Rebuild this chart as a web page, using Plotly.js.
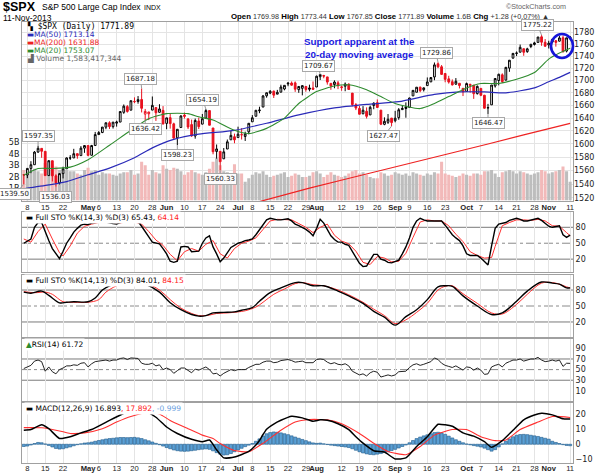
<!DOCTYPE html>
<html><head><meta charset="utf-8">
<script src="https://cdn.plot.ly/plotly-3.0.1.min.js"></script>
<style>html,body{margin:0;padding:0;background:#fff}#chart{width:605px;height:475px}</style>
</head><body><div id="chart"></div>
<script>
// ---------- DATA (trading-day index 0 = 5-Apr-2013 ... 153 = 11-Nov-2013) ----------
const prevClose = 1559.98;
const open = [
 1553.7, 1553.3,1563.1,1568.6,1587.7,1593.3, 1588.8,1552.4,1574.6,1552.0,1541.6, 1555.3,1562.5,1578.8,1578.8,1585.2, 1582.3,1593.6,
 1597.6,1582.8,1597.6, 1614.4,1617.6,1625.9,1632.7,1626.7, 1632.1,1633.8,1649.1,1658.1,1652.5, 1665.7,1666.2,1669.4,1646.2,1646.7, 1652.6,1656.6,1649.1,1652.1,
 1631.7,1640.7,1631.0,1609.4,1625.3, 1644.7,1638.6,1629.9,1612.2,1635.5, 1630.6,1639.8,1651.8,1624.6,1588.6, 1588.8,1577.5,1592.3,1606.4,1611.1,
 1609.8,1614.3,1611.5,1618.7, 1634.2,1642.9,1651.6,1657.4,1675.3, 1679.6,1682.7,1677.9,1681.1,1686.2, 1694.4,1695.9,1696.1,1685.2,1687.3, 1690.3,1687.9,1687.8,
 1689.4,1706.1, 1708.0,1705.8,1695.3,1693.4,1696.1, 1688.4,1690.7,1693.9,1679.6,1661.2, 1655.3,1646.8,1650.7,1645.0,1659.9, 1664.3,1652.5,1630.3,1633.5,1640.0,
 1635.9,1640.7,1653.3,1657.4, 1656.9,1675.1,1681.0,1689.2,1685.0, 1691.7,1697.7,1705.7,1727.3,1722.4, 1711.4,1702.6,1698.0,1694.0,1695.5, 1687.3,
 1682.4,1691.9,1692.4,1678.8, 1687.2,1676.2,1656.0,1660.9,1691.1, 1699.9,1709.2,1700.5,1720.2,1736.7, 1745.2,1746.5,1752.3,1747.5,1756.0, 1759.4,1762.9,1772.3,1763.2,
 1758.7, 1763.4,1765.7,1765.0,1770.7,1748.4, 1769.98];
const high = [
 1554.0, 1563.1,1573.9,1589.1,1597.35,1593.3, 1588.8,1575.4,1574.6,1554.4,1555.9, 1565.6,1579.6,1583.0,1592.6,1585.8, 1596.7,1597.6,
 1597.6,1598.6,1618.5, 1619.8,1626.0,1632.8,1635.0,1633.7, 1636.0,1651.1,1661.5,1660.5,1667.5, 1672.8,1674.9,1687.18,1654.4,1649.8, 1674.2,1656.6,1661.9,1658.9,
 1640.4,1646.5,1632.8,1622.6,1644.4, 1648.7,1640.1,1637.7,1639.3,1640.8, 1646.5,1654.19,1652.5,1624.6,1599.2, 1588.8,1593.8,1606.8,1620.1,1615.9,
 1626.6,1624.3,1618.9,1632.1, 1644.7,1652.4,1657.9,1676.6,1680.2, 1684.5,1683.7,1684.8,1693.1,1692.1, 1697.6,1698.4,1698.4,1690.9,1691.9, 1690.9,1693.2,1698.4,
 1707.9,1709.67, 1709.2,1705.8,1695.3,1700.2,1699.4, 1691.5,1696.8,1695.5,1679.6,1663.6, 1659.2,1658.9,1656.9,1659.6,1664.9, 1669.5,1652.5,1641.2,1646.4,1640.0,
 1651.4,1655.7,1659.2,1664.8, 1672.4,1684.1,1689.1,1689.9,1688.7, 1704.9,1705.5,1729.4,1729.86,1725.2, 1711.4,1707.6,1701.7,1703.9,1695.5, 1687.3,
 1696.6,1693.9,1692.4,1691.9, 1687.2,1676.8,1662.4,1692.6,1703.4, 1711.0,1711.6,1721.8,1733.5,1745.3, 1747.8,1759.3,1752.3,1753.9,1759.8, 1764.0,1772.1,1775.22,1768.5,
 1765.7, 1768.8,1767.0,1773.7,1774.5,1770.8, 1773.44];
const low = [
 1539.50, 1548.6,1556.0,1568.6,1586.5,1579.0, 1552.3,1552.4,1543.7,1536.03,1539.4, 1548.2,1562.5,1575.8,1578.8,1577.6, 1582.3,1586.5,
 1581.3,1582.8,1597.6, 1614.2,1616.6,1622.7,1623.1,1623.7, 1626.7,1633.8,1646.7,1648.6,1652.4, 1663.5,1662.7,1648.9,1636.42,1636.9, 1652.6,1635.6,1648.6,1630.7,
 1622.7,1623.6,1608.5,1598.23,1625.3, 1639.3,1622.9,1610.9,1608.1,1623.0, 1630.3,1639.8,1628.9,1584.3,1577.7, 1560.33,1577.1,1592.3,1606.4,1601.1,
 1609.8,1606.8,1604.6,1614.7, 1634.2,1642.9,1647.7,1657.4,1672.3, 1677.9,1671.8,1677.9,1681.1,1684.1, 1690.7,1691.5,1681.6,1680.1,1676.0, 1681.9,1682.4,1684.9,
 1689.4,1700.7, 1703.6,1693.3,1684.9,1687.4,1686.0, 1683.4,1682.6,1684.8,1658.6,1652.6, 1645.8,1646.1,1639.4,1645.0,1653.9, 1656.0,1629.1,1628.9,1630.9,1627.47,
 1633.4,1637.4,1653.1,1640.6, 1656.9,1675.1,1681.0,1681.0,1682.2, 1691.7,1697.7,1700.4,1720.2,1709.7, 1697.1,1694.9,1691.9,1693.1,1687.1, 1674.9,
 1682.1,1680.3,1670.4,1677.3, 1674.7,1655.0,1646.47,1660.9,1688.5, 1692.1,1695.9,1700.5,1714.1,1735.7, 1740.0,1746.5,1740.5,1745.5,1753.3, 1757.7,1762.9,1757.2,1755.7,
 1752.7, 1761.6,1755.8,1764.4,1746.2,1746.2, 1767.85];
const close = [
 1553.3, 1563.1,1568.6,1587.7,1593.4,1588.9, 1552.4,1574.6,1552.0,1541.6,1555.3, 1562.5,1578.8,1578.8,1585.2,1582.2, 1593.6,1597.6,
 1582.7,1597.6,1614.4, 1617.5,1626.0,1632.7,1626.7,1633.7, 1633.8,1650.3,1658.8,1650.5,1667.5, 1666.3,1669.2,1655.4,1650.5,1649.6, 1660.1,1648.4,1654.4,1630.7,
 1640.4,1631.4,1608.9,1622.6,1643.4, 1642.8,1626.1,1612.5,1636.4,1626.7, 1639.0,1651.8,1628.9,1588.2,1592.4, 1573.1,1588.0,1603.3,1613.2,1606.3,
 1615.0,1614.1,1615.4,1631.9, 1640.5,1652.3,1652.6,1675.0,1680.2, 1682.5,1676.3,1680.9,1689.4,1692.1, 1695.5,1692.4,1685.9,1690.3,1691.7, 1685.3,1686.0,1685.7,
 1706.9,1709.67, 1707.1,1697.4,1690.9,1697.5,1691.4, 1689.5,1694.2,1685.4,1661.3,1655.8, 1646.1,1652.4,1642.8,1657.0,1663.5, 1656.8,1630.5,1635.0,1638.2,1633.0,
 1639.8,1653.1,1655.1,1655.2, 1671.7,1684.0,1689.1,1683.4,1688.0, 1697.6,1704.8,1725.5,1722.3,1709.9, 1701.8,1697.4,1692.8,1698.7,1691.8, 1681.6,
 1695.0,1693.9,1678.7,1690.5, 1676.1,1655.5,1656.4,1692.6,1703.2, 1710.1,1698.1,1721.5,1733.2,1744.5, 1744.7,1754.7,1746.4,1752.1,1759.8, 1762.1,1772.0,1763.3,1756.5,
 1761.6, 1767.9,1763.0,1770.5,1747.2,1770.61, 1771.89];
// volume, billions of shares
const volume = [
 2.6, 2.3,2.5,2.7,2.5,2.3, 3.2,2.6,3.1,2.9,2.6, 2.4,2.6,2.5,2.5,2.3, 2.2,2.6,
 2.8,2.5,2.6, 2.2,2.4,2.3,2.3,2.2, 2.1,2.3,2.4,2.4,2.6, 2.2,2.3,3.3,3.0,2.2, 2.6,2.4,2.3,3.0,
 2.7,2.6,2.8,2.7,2.5, 2.2,2.4,2.6,2.4,2.3, 2.2,2.4,2.7,3.3,3.6, 3.0,2.5,2.4,2.3,3.1,
 2.3,2.3,1.6,1.9, 2.2,2.4,2.3,2.5,2.2, 2.0,2.1,2.2,2.3,2.4, 2.0,2.1,2.3,2.2,2.0, 2.0,2.1,2.4,
 2.5,2.3, 2.0,2.2,2.4,2.2,2.1, 2.0,2.1,2.3,2.5,2.6, 2.3,2.4,2.2,2.0,1.9, 1.9,2.4,2.3,2.1,2.2,
 2.4,2.3,2.2,2.3, 2.1,2.4,2.3,2.2,2.1, 2.3,2.2,2.4,2.3,3.3, 2.3,2.2,2.1,2.0,2.1, 2.3,
 2.2,2.1,2.3,2.3, 2.2,2.5,2.5,2.6,2.3, 2.0,2.4,2.5,2.6,2.5, 2.3,2.5,2.4,2.3,2.2, 2.3,2.4,2.6,2.5,
 2.3, 2.4,2.5,2.6,2.9,2.5, 1.583];
const lastVolumeText = '1,583,417,344';
// moving averages (read at points along the lines)
const ma20X = [0,4,8,13,18,24,30,35,40,46,49,53,59,63,68,73,77,82,87,91,96,100,104,111,115,119,124,128,133,138,143,147,150,153];
const ma20  = [1553,1563,1563,1565,1576,1598,1621,1639,1647,1647,1642,1637,1621,1616,1624,1640,1663,1682,1691,1693,1685,1674,1663,1655,1663,1674,1688,1695,1695,1702,1713,1735,1745,1753.07];
const ma50X = [0,7,12,18,24,31,36,42,49,59,68,77,87,96,105,115,122,129,135,143,147,150,153];
const ma50  = [1533,1538.6,1543.5,1553.6,1563.5,1579,1594,1607,1615,1621,1632,1645,1656,1661.6,1666,1677.6,1681.5,1681.5,1680,1688,1698,1705,1713.14];
const ma200X = [60,70,80,90,100,110,120,130,140,153];
const ma200  = [1506,1520,1534,1547,1560,1573,1586,1600,1614,1631.88];
// Full STO (14,3) %K daily, %D at points
const sto1K = [
 50,54,58,80,89,89,70,55,40,30, 21,35,50,60,71,78,84,86,85,88, 89,90,91,90,88,87,86,89,92,94,
 95,93,91,82,71,62,52,50,49,40, 30,16,14,16,43,44,43,34,34,35, 50,60,64,43,30,15,22,32,42,46,
 50,52,55,56,58,66,75,86,94,97, 95,94,94,95,96,92,86,83,80,76, 71,64,78,95,88,75,64,57,52,52,
 48,46,35,24,12,6,7,18,29,29, 20,18,14,13,15,18,30,43,60,80, 92,97,94,92,92,92,93,92,84,74,
 66,60,55,45,30,27,27,27,22,16, 9,45,78,86,87,89,93,95,97,95, 92,92,94,95,97,93,87,82,80,82,
 83,66,61,65.43];
const sto1DX = [0,2,4,6,8,10,11,13,15,17,19,21,24,27,30,33,35,37,39,41,43,45,47,49,51,53,55,57,59,61,63,65,67,69,71,73,75,77,79,81,83,85,87,89,91,93,95,97,99,101,103,105,107,109,111,113,115,117,119,121,123,125,127,129,131,132,134,136,138,140,142,144,146,148,150,152,153];
const sto1D  = [58,52,72,86,58,32,26,45,69,82,86,89,89,88,92,86,72,56,46,29,17,34,40,35,48,55,30,22,40,50,54,60,76,92,95,94,94,87,80,70,80,86,65,54,49,35,14,10,25,22,15,16,31,61,90,94,92,92,83,67,53,34,27,22,23,44,83,89,94,94,93,95,92,83,82,70,64.14];
// Full STO (14,13)
const sto2KX = [0,2,5,7,10,12,14,18,20,22,24,27,30,34,38,41,44,47,49,51,53,56,59,61,64,66,69,72,76,78,81,84,88,91,95,98,101,104,107,110,113,116,118,120,123,127,131,134,138,141,145,148,150,152,153];
const sto2K  = [76,74,78,70,56,57,58,58,65,80,88,94,97,91,76,56,43,34,31,32,37,38,39,42,47,59,75,84,94,94,88,88,78,69,55,40,29,14,30,43,62,86,88,87,69,50,34,37,59,78,95,93,91,84,84.01];
const sto2DX = [0,3,6,8,11,14,18,21,23,26,29,34,38,41,44,47,49,52,54,57,60,62,65,67,70,73,76,78,81,84,88,91,95,98,101,104,107,110,113,116,118,120,123,127,131,134,138,141,145,148,150,152,153];
const sto2D  = [77,75,76,72,58,57,57,62,76,88,94,93,80,62,46,36,32,33,36,37,39,41,48,57,72,82,92,94,90,88,80,71,57,44,32,17,24,38,55,80,87,88,73,55,37,35,53,72,93,94,91,86,84.15];
// RSI(14) daily
const rsi = [
 52,55,58,66,68,65,47,55,46,42, 50,53,57,57,59,58,62,63,55,61, 65,66,67,68,66,68,68,71,72,69,
 72,71,71,62,60,60,62,57,59,50, 53,50,43,48,53,53,48,44,51,49, 52,55,50,42,43,38,43,47,50,48,
 50,50,50,54,57,60,60,64,66,66, 63,64,67,68,69,67,64,65,66,63, 63,63,69,70,69,64,61,63,60,59,
 61,57,47,44,40,42,38,44,47,45, 36,38,40,38,40,46,47,47,54,59, 61,58,60,63,65,72,69,62,58,56,
 54,57,53,49,55,54,49,53,49,41, 42,55,58,60,55,62,65,68,68,70, 66,68,70,70,73,68,65,66,68,66,
 68,56,62,61.72];
// MACD(12,26,9)
const macdX = [0,2,5,7,10,13,16,19,24,28,30,34,37,40,43,47,50,52,54,56,59,63,65,66,67,68,70,72,75,78,81,83,85,88,91,93,95,98,101,104,107,110,113,116,118,120,123,126,129,131,134,137,140,143,145,148,151,153];
const macd  = [9.3,9.8,13,10.4,3.9,5,7.6,9.8,15.9,20.7,22.8,22,18,11.5,7.2,3.3,1.7,2.8,-3.7,-9.1,-8.5,-4.8,-0.5,2.5,6.5,10,13.5,16,18.7,17.6,15.4,16.3,16.0,13.7,9.8,5,0.7,-4.3,-5.2,-9.8,-9.1,-1.5,5,13.3,13,12,7.6,5.4,1.7,-2,2.4,9.3,16.3,19.5,20.7,19.6,17,16.893];
const signalX = [0,5,10,13,17,22,26,30,35,38,41,46,50,53,55,59,63,67,72,76,80,85,89,94,98,102,107,111,115,120,124,128,132,135,139,144,148,153];
const signal  = [11.1,11,8.9,7.2,7.6,10.4,14.8,18.5,21.3,20.2,15.9,10.4,6.1,3.8,0.5,-4.2,-5.0,0.7,9.3,14.8,16.5,16.3,13.7,7.2,0.7,-4.8,-7,-1.5,6.1,9.8,9.8,5,2.4,2.8,9.8,14.8,18.5,17.892];
const hist = [
 -1.5,-1.2,-0.5,0.5,1.2,1.0,0.2,-0.8,-1.8,-2.8, -3.2,-3.0,-2.4,-1.8,-1.0,-0.3,0.3,0.8,1.0,1.4,
 2.0,2.5,3.0,3.5,3.8,4.0,4.3,4.5,4.5,4.4, 4.5,4.6,4.3,3.8,3.0,2.3,1.5,0.6,-0.3,-1.2,
 -2.2,-3.0,-3.8,-4.3,-4.6,-4.7,-4.6,-4.3,-4.0,-3.6, -3.3,-3.1,-3.4,-4.4,-5.6,-6.6,-7.2,-7.0,-6.2,-5.0,
 -3.8,-2.7,-1.6,-0.6,0.5,2.0,3.6,5.5,7.0,7.8, 8.2,8.0,7.6,7.0,6.4,5.6,4.8,4.0,3.2,2.4,
 1.6,0.9,0.6,0.8,0.3,-0.2,-0.6,-0.9,-1.2,-1.5, -1.8,-2.2,-3.0,-4.0,-5.0,-5.8,-6.4,-6.8,-7.0,-6.6,
 -6.2,-5.6,-5.0,-4.2,-3.4,-2.5,-1.5,-0.5,1.0,2.5, 3.8,4.8,5.6,6.3,7.0,7.8,8.0,7.6,6.6,5.4,
 4.2,3.0,2.0,1.0,0.2,-0.4,-0.9,-1.3,-1.8,-2.6, -3.6,-4.6,-3.6,-1.8,0.3,2.0,3.6,5.0,6.0,6.5,
 6.6,6.4,6.0,5.6,5.2,4.6,4.0,3.4,2.0,1.2, 0.5,-0.3,-0.8,-0.999];
// x tick labels
const tickIdx  = [1,6,11,18,21,26,31,36,40,45,50,55,60,64,69,74,79,82,89,94,99,104,108,113,118,124,128,133,138,143,147,153];
const tickText = ['8','15','22','<b>May</b>','6','13','20','28','<b>Jun</b>','10','17','24','<b>Jul</b>','8','15','22','29','<b>Aug</b>','12','19','26','<b>Sep</b>','9','16','23','<b>Oct</b>','7','14','21','28','<b>Nov</b>','11'];
const priceTicks = [1520,1540,1560,1580,1600,1620,1640,1660,1680,1700,1720,1740,1760,1780];
const hiLabelIdx = [4,33,51,83,116,145];
const loLabelIdx = [0,9,34,43,55,103,130];

// ---------- STYLE ----------
const FONT = 'DejaVu Sans, Verdana, sans-serif';
const SANS = 'Liberation Sans, Arial, sans-serif';
const gridC = '#e4e4e4', frameC = '#a0a0a0';
const ML = 22, MT = 22, PW = 551, PH = 441;
const P = (x, y) => ({x: (x - ML) / PW, y: (MT + PH - y) / PH});
const n = close.length;
const idx = close.map((_, i) => i);

const up = {x:[],o:[],h:[],l:[],c:[]}, dn = {x:[],o:[],h:[],l:[],c:[]};
const volCol = [];
for (let i = 0; i < n; i++) {
  const pc = i === 0 ? prevClose : close[i-1];
  const g = close[i] >= pc ? up : dn;
  g.x.push(i); g.o.push(open[i]); g.h.push(high[i]); g.l.push(low[i]); g.c.push(close[i]);
  volCol.push(close[i] >= pc ? '#bdbdbd' : '#f2b9b9');
}
const RED = '#e8101e';
const traces = [
  {type:'bar', x:idx, y:volume, xaxis:'x', yaxis:'y', marker:{color:volCol, line:{width:0}}, hoverinfo:'skip'},
  {type:'scatter', mode:'lines', x:ma200X, y:ma200, xaxis:'x', yaxis:'y2', line:{color:'#ee2222', width:1.2}, hoverinfo:'skip'},
  {type:'scatter', mode:'lines', x:ma50X, y:ma50, xaxis:'x', yaxis:'y2', line:{color:'#2a2ab8', width:1.2, shape:'spline', smoothing:0.6}, hoverinfo:'skip'},
  {type:'scatter', mode:'lines', x:ma20X, y:ma20, xaxis:'x', yaxis:'y2', line:{color:'#2e8b2e', width:1.1, shape:'spline', smoothing:0.6}, hoverinfo:'skip'},
  {type:'candlestick', x:up.x, open:up.o, high:up.h, low:up.l, close:up.c, xaxis:'x', yaxis:'y2',
   increasing:{line:{color:'#000', width:1}, fillcolor:'#fff'}, decreasing:{line:{color:'#000', width:1}, fillcolor:'#000'}, whiskerwidth:0, hoverinfo:'skip'},
  {type:'candlestick', x:dn.x, open:dn.o, high:dn.h, low:dn.l, close:dn.c, xaxis:'x', yaxis:'y2',
   increasing:{line:{color:RED, width:1}, fillcolor:'#fff'}, decreasing:{line:{color:RED, width:1}, fillcolor:RED}, whiskerwidth:0, hoverinfo:'skip'},
  {type:'scatter', mode:'lines', x:sto1DX, y:sto1D, xaxis:'x2', yaxis:'y3', line:{color:'#ff3030', width:1}, hoverinfo:'skip'},
  {type:'scatter', mode:'lines', x:idx, y:sto1K, xaxis:'x2', yaxis:'y3', line:{color:'#000', width:1.4}, hoverinfo:'skip'},
  {type:'scatter', mode:'lines', x:sto2DX, y:sto2D, xaxis:'x3', yaxis:'y4', line:{color:'#ff3030', width:1, shape:'spline'}, hoverinfo:'skip'},
  {type:'scatter', mode:'lines', x:sto2KX, y:sto2K, xaxis:'x3', yaxis:'y4', line:{color:'#000', width:1.4, shape:'spline'}, hoverinfo:'skip'},
  {type:'scatter', mode:'lines', x:idx, y:rsi, xaxis:'x4', yaxis:'y5', line:{color:'#222', width:1}, hoverinfo:'skip'},
  {type:'bar', x:idx, y:hist, xaxis:'x5', yaxis:'y6', marker:{color:'#5a9fd4', line:{color:'#1f5a8c', width:0.6}}, hoverinfo:'skip'},
  {type:'scatter', mode:'lines', x:signalX, y:signal, xaxis:'x5', yaxis:'y6', line:{color:'#ff3030', width:1.1, shape:'spline', smoothing:0.5}, hoverinfo:'skip'},
  {type:'scatter', mode:'lines', x:macdX, y:macd, xaxis:'x5', yaxis:'y6', line:{color:'#000', width:1.5, shape:'spline', smoothing:0.5}, hoverinfo:'skip'}
];

const tickFont = {family:FONT, size:8, color:'#222'};
const dateFont = {family:SANS, size:7.6, color:'#222'};
function xax(anchor, labels, standoff) {
  return {domain:[0,1], anchor, range:[-0.5,153.8], tickmode:'array', tickvals:tickIdx, ticktext:tickText,
    showticklabels:labels, tickangle:0, ticks:'', ticklabelstandoff:standoff || 0, showgrid:true, gridcolor:gridC, gridwidth:1, zeroline:false,
    showline:true, mirror:true, linecolor:frameC, linewidth:1, tickfont:dateFont, fixedrange:true,
    rangeslider:{visible:false}};
}
function yax(anchor, domain, range, vals, extra) {
  return Object.assign({domain, anchor, range, side:'right', tickmode:'array', tickvals:vals, ticks:'',
    showgrid:false, zeroline:false, showline:true, mirror:true, linecolor:frameC, linewidth:1,
    tickfont:tickFont, fixedrange:true}, extra || {});
}
const D = {main:[0.593,1], s1:[0.433,0.569], s2:[0.286,0.426], r:[0.141,0.281], m:[0,0.136]};

function hline(yref, xref, v, dash) {
  return {type:'line', xref:xref + ' domain', x0:0, x1:1, yref, y0:v, y1:v, layer:'below',
    line:{color: dash ? '#8a8a8a' : '#7a7a7a', width:1, dash: dash ? 'dashdot' : 'solid'}};
}
const shapes = [
  hline('y3','x2',80), hline('y3','x2',20), hline('y3','x2',50,true),
  hline('y4','x3',80), hline('y4','x3',20), hline('y4','x3',50,true),
  hline('y5','x4',70), hline('y5','x4',30), hline('y5','x4',50,true)
];
const c0 = P(551, 34), c1 = P(573, 58);
shapes.push({type:'circle', xref:'paper', yref:'paper', x0:c0.x, x1:c1.x, y0:c1.y, y1:c0.y, line:{color:'#1515d8', width:2.6}});

function txt(x, y, text, opt) {
  const p = P(x, y);
  return Object.assign({xref:'paper', yref:'paper', x:p.x, y:p.y, text, showarrow:false, xanchor:'left', yanchor:'middle',
    font:{family:FONT, size:8, color:'#000'}}, opt || {});
}
const L = n - 1;
const chg = close[L] - close[L-1];
const val = s => '<span style="font-size:7.2px;color:#333">' + s + '</span>';
const annotations = [
  txt(1, 6.5, '<b>$SPX</b>', {font:{family:SANS, size:12.5, color:'#000'}}),
  txt(40, 7, 'S&amp;P 500 Large Cap Index', {font:{family:SANS, size:8.5, color:'#000'}}),
  txt(142, 7.5, 'INDX', {font:{family:SANS, size:7, color:'#000'}}),
  txt(1, 17.5, '11-Nov-2013', {font:{family:SANS, size:8.5, color:'#000'}}),
  txt(504, 6, '©StockCharts.com', {font:{family:SANS, size:7.2, color:'#666'}}),
  txt(229, 17, '<b>Open</b> ' + val(open[L].toFixed(2)) + ' <b>High</b> ' + val(high[L].toFixed(2)) + ' <b>Low</b> ' + val(low[L].toFixed(2)) +
     ' <b>Close</b> ' + val(close[L].toFixed(2)) + ' <b>Volume</b> ' + val(volume[L].toFixed(1) + 'B') + ' <b>Chg</b> ' + val('+' + chg.toFixed(2) +
     ' (+' + (chg / close[L-1] * 100).toFixed(2) + '%) ▲'), {font:{family:SANS, size:7.8, color:'#000'}}),
  txt(25, 26, '<b>▚</b> $SPX (Daily) ' + close[L].toFixed(2), {font:{family:'DejaVu Sans Mono, monospace', size:8, color:'#000'}}),
  txt(25, 34, '▬MA(50) ' + ma50[ma50.length-1].toFixed(2), {font:{family:FONT, size:7.5, color:'#2a2ab8'}}),
  txt(25, 42, '▬MA(200) ' + ma200[ma200.length-1].toFixed(2), {font:{family:FONT, size:7.5, color:'#ee2222'}}),
  txt(25, 50, '▬MA(20) ' + ma20[ma20.length-1].toFixed(2), {font:{family:FONT, size:7.5, color:'#2e8b2e'}}),
  txt(25, 58, '▟ Volume ' + lastVolumeText, {font:{family:FONT, size:7.5, color:'#666'}}),
  txt(302, 48, '<b>Support apparent at the<br>20-day moving average</b>', {font:{family:SANS, size:9.8, color:'#1a1ae0'}}),
  txt(24, 217, '▬ Full STO %K(14,3) %D(3) ' + sto1K[L].toFixed(2) + ', <span style="color:#ff2020">' + sto1D[sto1D.length-1].toFixed(2) + '</span>',
     {bgcolor:'#fff', borderpad:1, font:{family:FONT, size:7.5, color:'#000'}}),
  txt(24, 280, '▬ Full STO %K(14,13) %D(3) ' + sto2K[sto2K.length-1].toFixed(2) + ', <span style="color:#ff2020">' + sto2D[sto2D.length-1].toFixed(2) + '</span>',
     {bgcolor:'#fff', borderpad:1, font:{family:FONT, size:7.5, color:'#000'}}),
  txt(24, 344, '<span style="color:#2e8b2e">▲</span>RSI(14) ' + rsi[L].toFixed(2),
     {bgcolor:'#fff', borderpad:1, font:{family:FONT, size:7.5, color:'#000'}}),
  txt(24, 408, '▬ MACD(12,26,9) ' + macd[macd.length-1].toFixed(3) + '<span style="color:#ff2020">, ' + signal[signal.length-1].toFixed(3) + '</span><span style="color:#6aa0e0">, ' + hist[L].toFixed(3) + '</span>',
     {bgcolor:'#fff', borderpad:1, font:{family:FONT, size:7.5, color:'#000'}})
];
const labelOff = {0:[-9,10], 4:[0,-10], 9:[0,10], 33:[-1,-9], 34:[0,9], 43:[0,10], 51:[-3,-9], 55:[0,9], 83:[-2,-9], 103:[-8,10], 116:[-2,-9], 130:[0,9], 145:[-4,-10]};
function priceLabel(i, v) {
  const o = labelOff[i];
  return {xref:'x', yref:'y2', x:i, y:Math.log10(v), text:v.toFixed(2), showarrow:true, arrowhead:0, arrowwidth:1,
    arrowcolor:'#999', ax:o[0], ay:o[1], standoff:0, bgcolor:'rgba(255,255,255,0.92)', bordercolor:'#a8a8a8',
    borderwidth:1, borderpad:1, font:{family:FONT, size:7, color:'#222'}};
}
hiLabelIdx.forEach(i => annotations.push(priceLabel(i, high[i])));
loLabelIdx.forEach(i => annotations.push(priceLabel(i, low[i])));

const layout = {
  width:605, height:475, margin:{l:ML, r:605-ML-PW, t:MT, b:475-MT-PH},
  paper_bgcolor:'#fff', plot_bgcolor:'#fff', showlegend:false, hovermode:false, bargap:0.15,
  xaxis: xax('y', true, -2),
  xaxis2: xax('y3', false),
  xaxis3: xax('y4', false),
  xaxis4: xax('y5', false),
  xaxis5: xax('y6', true, -2),
  yaxis: yax('x', D.main, [-0.1,15.3], [1,2,3,4,5], {side:'left', ticktext:['1B','2B','3B','4B','5B']}),
  yaxis2: {overlaying:'y', anchor:'x', side:'right', type:'log', range:[Math.log10(1514.5), Math.log10(1797.6)],
    tickmode:'array', tickvals:priceTicks, ticktext:priceTicks.map(String), ticks:'', showgrid:true, gridcolor:gridC,
    zeroline:false, showline:false, tickfont:tickFont, fixedrange:true},
  yaxis3: yax('x2', D.s1, [-4.3,108.7], [20,50,80]),
  yaxis4: yax('x3', D.s2, [-8,108], [20,50,80]),
  yaxis5: yax('x4', D.r, [-8.8,107.5], [10,30,50,70,90]),
  yaxis6: yax('x5', D.m, [-12.5,27.5], [-10,0,10,20]),
  shapes, annotations
};
Plotly.newPlot('chart', traces, layout, {displayModeBar:false, staticPlot:true});
</script>
</body></html>
